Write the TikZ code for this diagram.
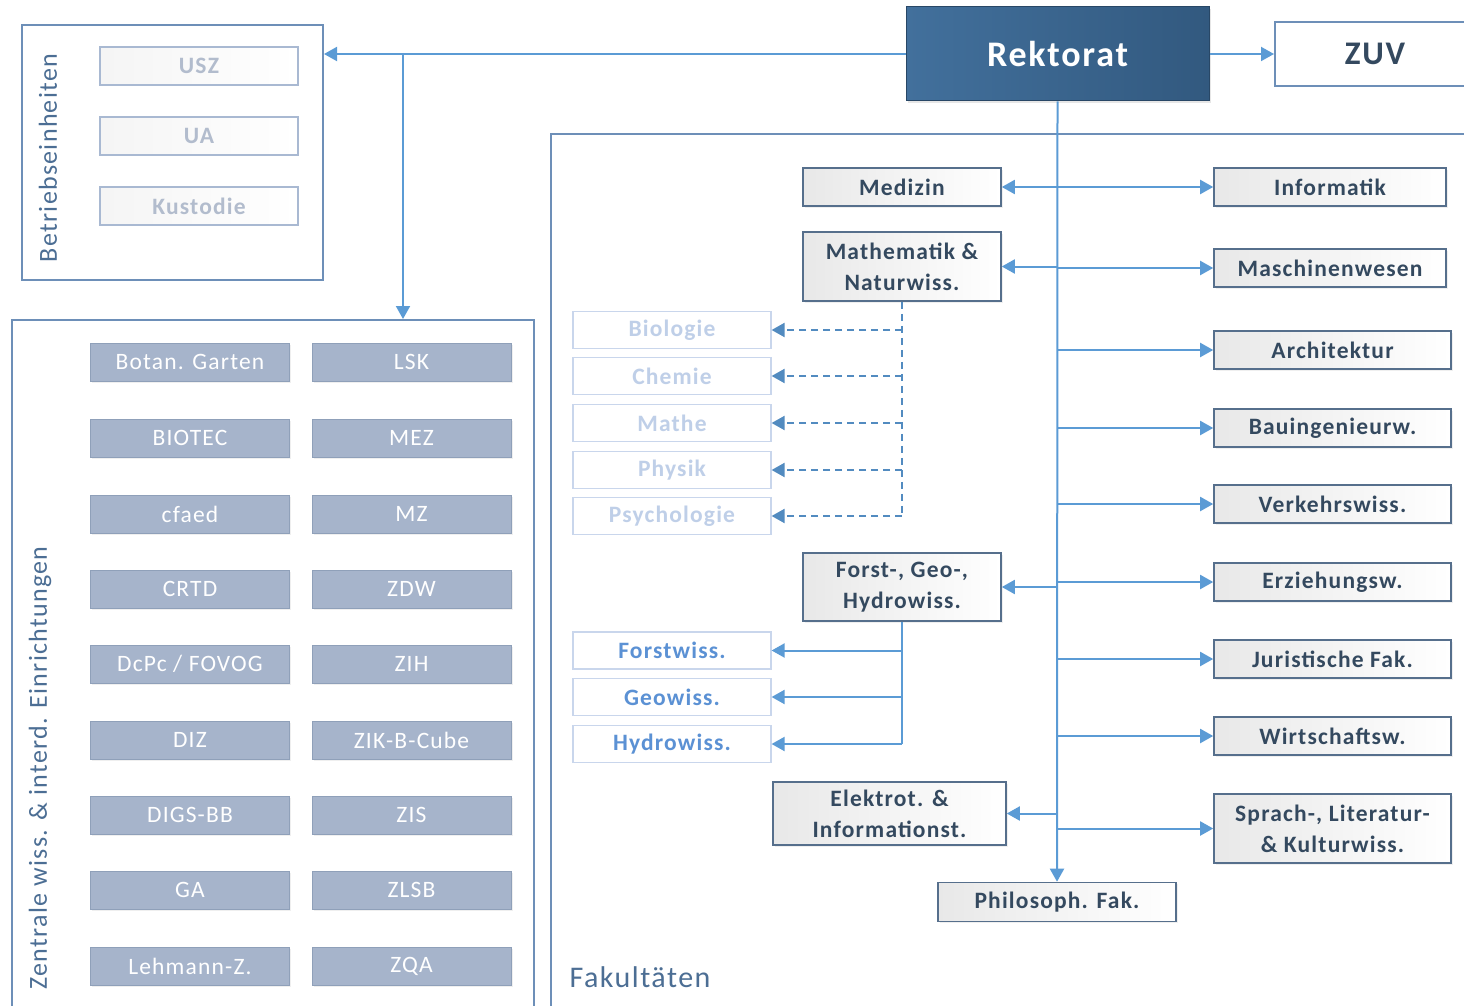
\documentclass[tikz,border=0pt]{standalone}
\usepackage{fontspec}
\setmainfont{Carlito}[LetterSpace=5]
\usetikzlibrary{arrows.meta,shadows}
\definecolor{lineblue}{HTML}{5B9BD5}
\definecolor{outerb}{HTML}{6D8FB8}
\definecolor{facb}{HTML}{566F8C}
\definecolor{factxt}{HTML}{34495F}
\definecolor{gridfill}{HTML}{A6B4CB}
\definecolor{gridb}{HTML}{8FA0B9}
\definecolor{palet}{HTML}{BFCFE8}
\definecolor{paleb}{HTML}{C9D6EC}
\definecolor{midt}{HTML}{5B91D4}
\definecolor{betrt}{HTML}{B2BCCD}
\definecolor{betrb}{HTML}{A9B9D2}
\definecolor{labt}{HTML}{4C6E94}
\definecolor{rekA}{HTML}{42709C}
\definecolor{rekB}{HTML}{32597F}
\tikzset{
  outerbox/.style={draw=outerb,line width=2pt,fill=white},
  fac/.style={draw=facb,line width=1.6pt,left color=black!9,right color=white,
    text=factxt,font=\bfseries\fontsize{23.5}{31}\selectfont,align=center,inner sep=0pt,
    drop shadow={shadow xshift=1.5pt,shadow yshift=-1.5pt,opacity=0.12}},
  gridbox/.style={draw=gridb,line width=1pt,fill=gridfill,text=white,
    font=\fontsize{23.5}{26}\selectfont,minimum width=199pt,minimum height=38pt,inner sep=0pt,
    drop shadow={shadow xshift=1.5pt,shadow yshift=-1.5pt,opacity=0.12}},
  betrbox/.style={draw=betrb,line width=1.2pt,left color=black!4,right color=white,text=betrt,
    font=\bfseries\fontsize{23.5}{26}\selectfont,minimum width=198pt,minimum height=38pt,inner sep=0pt},
  palebox/.style={draw=paleb,line width=1.2pt,fill=white,text=palet,
    font=\bfseries\fontsize{23.5}{26}\selectfont,minimum width=198pt,minimum height=37pt,inner sep=0pt},
  midbox/.style={palebox,text=midt},
  arr/.style={draw=lineblue,line width=2pt,-{Triangle[length=13pt,width=14pt]}},
  plain/.style={draw=lineblue,line width=2pt},
  darr/.style={draw=lineblue!90!black,line width=2pt,dash pattern=on 7pt off 5pt,-{Triangle[length=13pt,width=14pt]}},
  dplain/.style={draw=lineblue!90!black,line width=2pt,dash pattern=on 7pt off 5pt},
}
\begin{document}
\begin{tikzpicture}[x=1pt,y=-1pt]
\useasboundingbox (0,0) rectangle (1464,1006);
% outer containers
\node[outerbox,minimum width=301pt,minimum height=255pt,inner sep=0pt] (betr) at (172.5,152.5) {};
\node[outerbox,minimum width=522pt,minimum height=700pt,inner sep=0pt] (zent) at (273,670) {};
\node[outerbox,minimum width=940pt,minimum height=900pt,inner sep=0pt] (fak) at (1021,584) {};
\node[rotate=90,text=labt,font=\fontsize{26}{28}\selectfont] (betrlab) at (48,158) {Betriebseinheiten};
\node[rotate=90,text=labt,font=\fontsize{26}{28}\selectfont] (zentlab) at (40,768) {Zentrale wiss. \& interd. Einrichtungen};
\node[anchor=west,text=labt,font=\fontsize{30}{32}\selectfont] (faklab) at (566,977) {Fakultäten};
% Betriebseinheiten
\node[betrbox] (usz) at (199,66) {USZ};
\node[betrbox] (ua) at (199,136) {UA};
\node[betrbox] (kust) at (199,206) {Kustodie};
% grid
\node[gridbox] (g1) at (190,362) {Botan. Garten};
\node[gridbox] (g2) at (411.5,362) {LSK};
\node[gridbox] (g3) at (190,438) {BIOTEC};
\node[gridbox] (g4) at (411.5,438) {MEZ};
\node[gridbox] (g5) at (190,514) {cfaed};
\node[gridbox] (g6) at (411.5,514) {MZ};
\node[gridbox] (g7) at (190,589) {CRTD};
\node[gridbox] (g8) at (411.5,589) {ZDW};
\node[gridbox] (g9) at (190,664) {DcPc / FOVOG};
\node[gridbox] (g10) at (411.5,664) {ZIH};
\node[gridbox] (g11) at (190,740) {DIZ};
\node[gridbox] (g12) at (411.5,740) {ZIK-B-Cube};
\node[gridbox] (g13) at (190,815) {DIGS-BB};
\node[gridbox] (g14) at (411.5,815) {ZIS};
\node[gridbox] (g15) at (190,890) {GA};
\node[gridbox] (g16) at (411.5,890) {ZLSB};
\node[gridbox] (g17) at (190,966) {Lehmann-Z.};
\node[gridbox] (g18) at (411.5,966) {ZQA};
% Rektorat and ZUV
\node[draw=rekB!80!black,line width=1pt,left color=rekA,right color=rekB,text=white,
  font=\bfseries\fontsize{36}{38}\selectfont,minimum width=303pt,minimum height=94pt,inner sep=0pt,
  drop shadow={shadow xshift=2pt,shadow yshift=-2pt,opacity=0.2}] (rek) at (1057.5,54) {Rektorat};
\node[draw=outerb,line width=2pt,fill=white,minimum width=220pt,minimum height=64pt,inner sep=0pt] (zuv) at (1385,54) {};
\node[text=factxt,font=\bfseries\fontsize{33}{35}\selectfont] (zuvt) at (1375,54) {ZUV};
% faculties left
\node[fac,minimum width=198pt,minimum height=38pt] (med) at (902,187) {Medizin};
\node[fac,minimum width=198pt,minimum height=69pt] (mat) at (902,266.5) {Mathematik \&\\Naturwiss.};
\node[fac,minimum width=198pt,minimum height=68pt] (forst) at (902,587) {Forst-, Geo-,\\Hydrowiss.};
\node[fac,minimum width=233pt,minimum height=63pt] (elek) at (889.5,813.5) {Elektrot. \&\\Informationst.};
\node[fac,minimum width=238pt,minimum height=39pt] (phil) at (1057,902) {Philosoph. Fak.};
% faculties right
\node[fac,minimum width=232pt,minimum height=38pt] (inf) at (1330,187) {Informatik};
\node[fac,minimum width=232pt,minimum height=38pt] (masch) at (1330,268) {Maschinenwesen};
\node[fac,minimum width=237pt,minimum height=38pt] (arch) at (1332.5,350) {Architektur};
\node[fac,minimum width=237pt,minimum height=38pt] (bau) at (1332.5,428) {Bauingenieurw.};
\node[fac,minimum width=237pt,minimum height=38pt] (verk) at (1332.5,504) {Verkehrswiss.};
\node[fac,minimum width=237pt,minimum height=38pt] (erz) at (1332.5,582) {Erziehungsw.};
\node[fac,minimum width=237pt,minimum height=38pt] (jur) at (1332.5,659) {Juristische Fak.};
\node[fac,minimum width=237pt,minimum height=38pt] (wirt) at (1332.5,736) {Wirtschaftsw.};
\node[fac,minimum width=237pt,minimum height=69pt] (spr) at (1332.5,828.5) {Sprach-, Literatur-\\\& Kulturwiss.};
% sub institutes
\node[palebox] (bio) at (672,330) {Biologie};
\node[palebox] (che) at (672,376) {Chemie};
\node[palebox] (mathe) at (672,423) {Mathe};
\node[palebox] (phy) at (672,470) {Physik};
\node[palebox] (psy) at (672,516) {Psychologie};
\node[midbox] (fw) at (672,650.5) {Forstwiss.};
\node[midbox] (gw) at (672,697) {Geowiss.};
\node[midbox] (hw) at (672,744) {Hydrowiss.};
% connectors top
\coordinate (br) at (403,53);
\draw[arr] (rek.west) -- (rek.west -| betr.east);
\draw[arr] (br) -- (br |- zent.north);
\draw[arr] (rek.east) -- (zuv.west);
\draw[arr] (rek.south) -- (phil.north);
% left faculty arrows
\draw[arr] (rek.south |- med.east) -- (med.east);
\draw[arr] (rek.south |- mat.east) -- (mat.east);
\draw[arr] (rek.south |- forst.east) -- (forst.east);
\draw[arr] (rek.south |- elek.east) -- (elek.east);
% right faculty arrows
\draw[arr] (rek.south |- inf.west) -- (inf.west);
\draw[arr] (rek.south |- masch.west) -- (masch.west);
\draw[arr] (rek.south |- arch.west) -- (arch.west);
\draw[arr] (rek.south |- bau.west) -- (bau.west);
\draw[arr] (rek.south |- verk.west) -- (verk.west);
\draw[arr] (rek.south |- erz.west) -- (erz.west);
\draw[arr] (rek.south |- jur.west) -- (jur.west);
\draw[arr] (rek.south |- wirt.west) -- (wirt.west);
\draw[arr] (rek.south |- spr.west) -- (spr.west);
% dashed sub-structure
\draw[dplain] (mat.south) -- (mat.south |- psy.east);
\draw[darr] (mat.south |- bio.east) -- (bio.east);
\draw[darr] (mat.south |- che.east) -- (che.east);
\draw[darr] (mat.south |- mathe.east) -- (mathe.east);
\draw[darr] (mat.south |- phy.east) -- (phy.east);
\draw[darr] (mat.south |- psy.east) -- (psy.east);
% solid sub-structure
\draw[plain] (forst.south) -- (forst.south |- hw.east);
\draw[arr] (forst.south |- fw.east) -- (fw.east);
\draw[arr] (forst.south |- gw.east) -- (gw.east);
\draw[arr] (forst.south |- hw.east) -- (hw.east);
\end{tikzpicture}
\end{document}
